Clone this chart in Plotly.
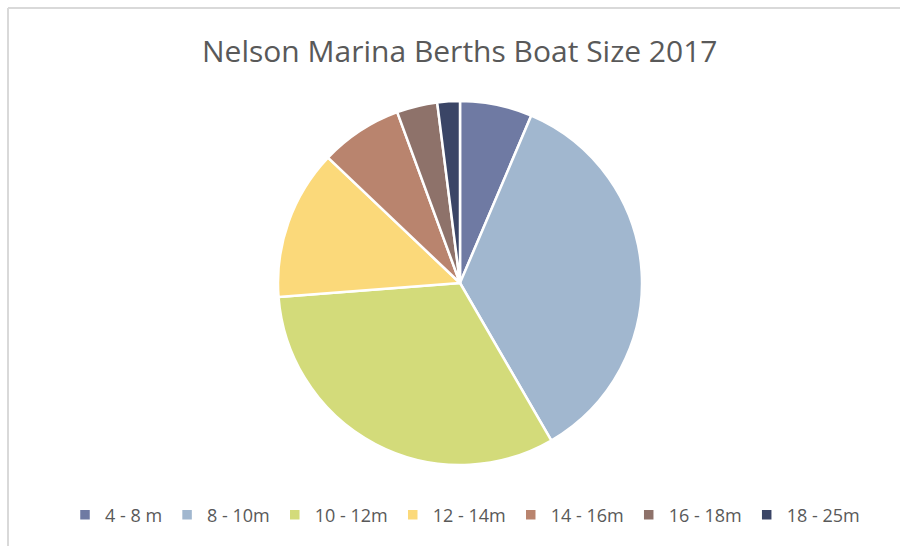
import plotly.graph_objects as go

categories = ["4 - 8 m", "8 - 10m", "10 - 12m", "12 - 14m", "14 - 16m", "16 - 18m", "18 - 25m"]
values = [6.4, 35.2, 32.1, 13.3, 7.3, 3.6, 2.0]
colors = ["#6F7AA3", "#A1B7CF", "#D3DB7A", "#FBD97A", "#B9846E", "#8E726A", "#3A4566"]

W, H = 900, 546
cx, cy, r = 460, 283, 182

fig = go.Figure(go.Pie(
    labels=categories,
    values=values,
    sort=False,
    direction="clockwise",
    rotation=0,
    textinfo="none",
    hoverinfo="label+value",
    marker=dict(colors=colors, line=dict(color="white", width=2.5)),
    domain=dict(x=[(cx - r) / W, (cx + r) / W], y=[(H - cy - r) / H, (H - cy + r) / H]),
))

fig.update_layout(
    width=W, height=H,
    margin=dict(l=0, r=0, t=0, b=0),
    paper_bgcolor="white",
    plot_bgcolor="white",
    showlegend=True,
    legend=dict(
        orientation="h",
        x=465 / W, xanchor="center",
        y=(H - 515) / H, yanchor="middle",
        font=dict(family="Open Sans", size=18, color="#595959"),
        itemwidth=30,
        traceorder="normal",
    ),
    annotations=[dict(
        text="Nelson Marina Berths Boat Size 2017",
        x=cx / W, y=(H - 50) / H, xref="paper", yref="paper",
        xanchor="center", yanchor="middle", showarrow=False,
        font=dict(family="Open Sans", size=30, color="#595959"),
    )],
    shapes=[
        dict(type="line", xref="paper", yref="paper", x0=8 / W, x1=1, y0=(H - 8) / H, y1=(H - 8) / H,
             line=dict(color="#D9D9D9", width=2)),
        dict(type="line", xref="paper", yref="paper", x0=8 / W, x1=8 / W, y0=0, y1=(H - 8) / H,
             line=dict(color="#D9D9D9", width=2)),
    ],
)

fig.write_html("out.html")
